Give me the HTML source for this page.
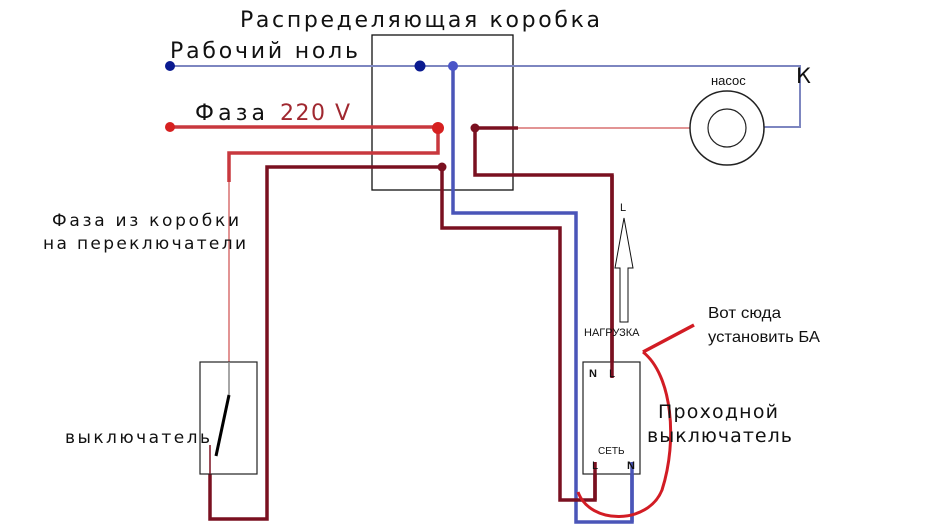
<!DOCTYPE html>
<html><head><meta charset="utf-8"><style>html,body{margin:0;padding:0;background:#fff}svg{display:block}</style></head>
<body>
<svg width="937" height="527" viewBox="0 0 937 527" xmlns="http://www.w3.org/2000/svg" font-family="DejaVu Sans, Liberation Sans, sans-serif">
<rect width="937" height="527" fill="#fff"/>
<rect x="372" y="35" width="141" height="155" fill="none" stroke="#111" stroke-width="1.3"/>
<polyline points="170,66 800,66 800,127 764,127" fill="none" stroke="#7d86c0" stroke-width="2"/>
<polyline points="453,66 453,213 576,213 576,522 632,522 632,462" fill="none" stroke="#4a55b8" stroke-width="3.5"/>
<line x1="170" y1="127" x2="438" y2="127" stroke="#c8383e" stroke-width="3.5"/>
<polyline points="438,127 438,153 229,153 229,182" fill="none" stroke="#c8383e" stroke-width="3.5"/>
<line x1="229" y1="182" x2="229" y2="395" stroke="#d87070" stroke-width="1.5"/>
<polyline points="442,167 267,167 267,519 210,519 210,474" fill="none" stroke="#7a1020" stroke-width="3.5"/>
<polyline points="442,167 442,228 560,228 560,500 595,500 595,462" fill="none" stroke="#7a1020" stroke-width="3.5"/>
<polyline points="518,128 475,128 475,175 612,175 612,378" fill="none" stroke="#7a1020" stroke-width="3.5"/>
<line x1="518" y1="128" x2="690" y2="128" stroke="#d87070" stroke-width="1.5"/>
<circle cx="170" cy="66" r="5" fill="#0a1a90"/>
<circle cx="420" cy="66" r="5.5" fill="#0a1a90"/>
<circle cx="453" cy="66" r="5" fill="#4a55c8"/>
<circle cx="170" cy="127" r="5" fill="#d62020"/>
<circle cx="438" cy="128" r="6" fill="#d62020"/>
<circle cx="475" cy="128" r="4.5" fill="#7a1020"/>
<circle cx="442" cy="167" r="4.5" fill="#7a1020"/>
<circle cx="727" cy="128" r="37" fill="#fff" stroke="#222" stroke-width="1.5"/>
<circle cx="727" cy="128" r="19" fill="none" stroke="#222" stroke-width="1.2"/>
<text x="711" y="85" font-size="13" fill="#111" font-family="Liberation Sans, sans-serif">насос</text>
<text x="796" y="83" font-size="21" fill="#111">К</text>
<rect x="200" y="362" width="57" height="112" fill="#fff" stroke="#222" stroke-width="1.2"/>
<line x1="229" y1="362" x2="229" y2="395" stroke="#888" stroke-width="1.5"/>
<line x1="229" y1="395" x2="216" y2="456" stroke="#000" stroke-width="3"/>
<line x1="210" y1="445" x2="210" y2="474" stroke="#7a1020" stroke-width="1.5"/>
<rect x="583" y="362" width="57" height="112" fill="#fff" stroke="#222" stroke-width="1.2"/>
<line x1="612" y1="175" x2="612" y2="378" stroke="#7a1020" stroke-width="3.5"/>
<line x1="595" y1="462" x2="595" y2="500" stroke="#7a1020" stroke-width="3.5"/>
<line x1="632" y1="462" x2="632" y2="522" stroke="#4a55b8" stroke-width="3.5"/>
<g font-family="Liberation Sans, sans-serif">
<text x="589" y="377" font-size="11" fill="#111" font-weight="bold">N</text>
<text x="609" y="377" font-size="11" fill="#111">L</text>
<text x="598" y="454" font-size="10" fill="#111">СЕТЬ</text>
<text x="592" y="469" font-size="11" fill="#111">L</text>
<text x="627" y="469" font-size="11" fill="#111" font-weight="bold">N</text>
<text x="620" y="211" font-size="11" fill="#111">L</text>
<text x="584" y="336" font-size="11" fill="#111">НАГРУЗКА</text>
</g>
<polygon points="624,218 615,268 620,268 620,322 628,322 628,268 633,268" fill="#fff" stroke="#111" stroke-width="1"/>
<path d="M643,352 C672,375 678,440 662,490 C648,525 590,525 578,492" fill="none" stroke="#d21c24" stroke-width="3"/>
<line x1="694" y1="325" x2="643" y2="352" stroke="#d21c24" stroke-width="3.5"/>
<text x="240" y="27" font-size="22" fill="#111" textLength="360" lengthAdjust="spacing">Распределяющая коробка</text>
<text x="170" y="58" font-size="22" fill="#111" textLength="188" lengthAdjust="spacing">Рабочий ноль</text>
<text x="195" y="120" font-size="22" fill="#111" textLength="70" lengthAdjust="spacing">Фаза</text>
<text x="280" y="120" font-size="22" fill="#a02830" textLength="70" lengthAdjust="spacing">220 V</text>
<text x="52" y="226" font-size="17" fill="#111" textLength="187" lengthAdjust="spacing">Фаза из коробки</text>
<text x="43" y="249" font-size="17" fill="#111" textLength="203" lengthAdjust="spacing">на переключатели</text>
<text x="65" y="443" font-size="17" fill="#111" textLength="145" lengthAdjust="spacing">выключатель</text>
<text x="658" y="418" font-size="19" fill="#111" textLength="120" lengthAdjust="spacing">Проходной</text>
<text x="647" y="442" font-size="19" fill="#111" textLength="145" lengthAdjust="spacing">выключатель</text>
<text x="708" y="318" font-size="16" fill="#111" font-family="Liberation Sans, sans-serif" textLength="73" lengthAdjust="spacingAndGlyphs">Вот сюда</text>
<text x="708" y="342" font-size="16" fill="#111" font-family="Liberation Sans, sans-serif" textLength="112" lengthAdjust="spacingAndGlyphs">установить БА</text>
</svg>
</body></html>
